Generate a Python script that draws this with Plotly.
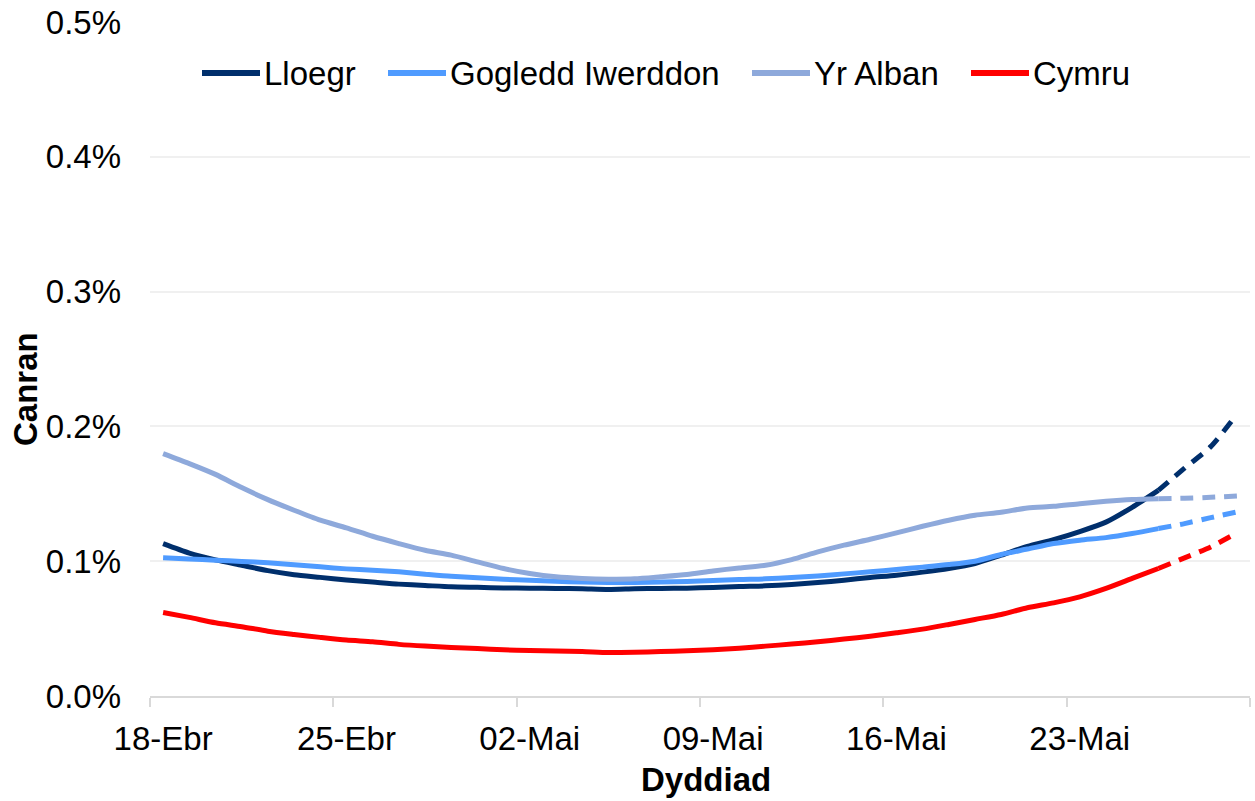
import plotly.graph_objects as go

# ---------------- data (percent) ----------------
tick_labels = ["18-Ebr", "25-Ebr", "02-Mai", "09-Mai", "16-Mai", "23-Mai"]
tick_days = [0, 7, 14, 21, 28, 35]
n_days = 42            # 18 Apr .. 29 May
solid_end = 38         # last day of solid part; dashed afterwards

series_names = ["Lloegr", "Gogledd Iwerddon", "Yr Alban", "Cymru"]
series_colors = ["#002F6C", "#4F9BFF", "#8EA9DB", "#FF0000"]

lloegr = [0.113, 0.106, 0.101, 0.097, 0.093, 0.090, 0.088, 0.086, 0.0845, 0.083,
          0.082, 0.081, 0.0806, 0.0802, 0.0800, 0.0798, 0.0795, 0.0790, 0.0795, 0.0798,
          0.0800, 0.0805, 0.0812, 0.0817, 0.0827, 0.0842, 0.0859, 0.0879, 0.0896, 0.0919,
          0.0946, 0.0983, 0.1045, 0.1110, 0.1160, 0.1220, 0.1290, 0.1400, 0.1526, 0.1690,
          0.1850, 0.2090]
gogledd = [0.1025, 0.1017, 0.1007, 0.0998, 0.0988, 0.0973, 0.0958, 0.0943, 0.0933, 0.0921,
           0.0904, 0.0888, 0.0877, 0.0866, 0.0858, 0.0851, 0.0846, 0.0842, 0.0842, 0.0845,
           0.0850, 0.0857, 0.0864, 0.0869, 0.0879, 0.0891, 0.0906, 0.0921, 0.0938, 0.0956,
           0.0975, 0.1000, 0.1050, 0.1090, 0.1131, 0.1156, 0.1175, 0.1205, 0.1242, 0.1279,
           0.1323, 0.1365]
alban = [0.1798, 0.1724, 0.1644, 0.1546, 0.1457, 0.1378, 0.1304, 0.1247, 0.1185, 0.1131,
         0.1081, 0.1045, 0.0995, 0.0946, 0.0909, 0.0884, 0.0872, 0.0867, 0.0869, 0.0884,
         0.0901, 0.0928, 0.0950, 0.0970, 0.1012, 0.1069, 0.1119, 0.1163, 0.1210, 0.1259,
         0.1304, 0.1341, 0.1363, 0.1395, 0.1407, 0.1427, 0.1444, 0.1457, 0.1464, 0.1467,
         0.1474, 0.1484]
cymru = [0.0620, 0.0583, 0.0543, 0.0514, 0.0481, 0.0457, 0.0435, 0.0415, 0.0402, 0.0383,
         0.0370, 0.0360, 0.0352, 0.0343, 0.0337, 0.0333, 0.0330, 0.0323, 0.0325, 0.0330,
         0.0336, 0.0343, 0.0355, 0.0370, 0.0385, 0.0402, 0.0422, 0.0444, 0.0469, 0.0496,
         0.0531, 0.0568, 0.0605, 0.0655, 0.0691, 0.0736, 0.0798, 0.0872, 0.0946, 0.1025,
         0.1106, 0.1210]

series_values = [lloegr, gogledd, alban, cymru]

FONT = "Liberation Sans, Arial, sans-serif"
FS = 33

fig = go.Figure()
days = list(range(n_days))
for name, color, vals in zip(series_names, series_colors, series_values):
    fig.add_trace(go.Scatter(
        x=days[:solid_end + 1], y=vals[:solid_end + 1], mode="lines", name=name,
        line=dict(color=color, width=5, shape="spline", smoothing=0.7), showlegend=False))
    fig.add_trace(go.Scatter(
        x=days[solid_end:], y=vals[solid_end:], mode="lines", name=name,
        line=dict(color=color, width=5, dash="13px,9px", shape="spline", smoothing=0.7),
        showlegend=False))

# ---------------- custom legend ----------------
plot_l, plot_r, plot_t, plot_b = 150, 1250, 22, 696
W, H = 1255, 801

def px_x(p):
    return (p - plot_l) / (plot_r - plot_l)

def px_y(p):
    return (plot_b - p) / (plot_b - plot_t)

legend_starts = [202, 388, 752, 971]
sample_len = 58
leg_y = 73
shapes = []
annotations = []
for name, color, x0 in zip(series_names, series_colors, legend_starts):
    shapes.append(dict(type="line", xref="paper", yref="paper",
                       x0=px_x(x0), x1=px_x(x0 + sample_len),
                       y0=px_y(leg_y), y1=px_y(leg_y),
                       line=dict(color=color, width=6)))
    annotations.append(dict(text=name, xref="paper", yref="paper",
                            x=px_x(x0 + sample_len + 2), y=px_y(leg_y),
                            xanchor="left", yanchor="middle", showarrow=False,
                            font=dict(family=FONT, size=FS, color="#000000")))

annotations.append(dict(text="<b>Canran</b>", xref="paper", yref="paper",
                        x=px_x(25), y=px_y(389), textangle=-90,
                        xanchor="center", yanchor="middle", showarrow=False,
                        font=dict(family=FONT, size=FS, color="#000000")))
annotations.append(dict(text="<b>Dyddiad</b>", xref="paper", yref="paper",
                        x=px_x(706), y=px_y(779),
                        xanchor="center", yanchor="middle", showarrow=False,
                        font=dict(family=FONT, size=FS, color="#000000")))

fig.update_layout(
    width=W, height=H,
    margin=dict(l=plot_l, r=W - plot_r, t=plot_t, b=H - plot_b),
    paper_bgcolor="white", plot_bgcolor="white",
    font=dict(family=FONT, size=FS, color="#000000"),
    showlegend=False,
    shapes=shapes,
    annotations=annotations,
    xaxis=dict(range=[-0.5, n_days - 0.5], tickmode="array",
               tickvals=tick_days, ticktext=tick_labels, ticks="",
               showgrid=False, zeroline=False, showline=True,
               linecolor="#D9D9D9", linewidth=2,
               ticklabelstandoff=12,
               minor=dict(tickmode="linear", tick0=-0.5, dtick=7, ticks="outside",
                          ticklen=9, tickcolor="#D9D9D9", tickwidth=2, showgrid=False),
               tickfont=dict(family=FONT, size=FS, color="#000000")),
    yaxis=dict(range=[0, 0.5], tickmode="linear", tick0=0, dtick=0.1,
               tickformat=".1f", ticksuffix="%", showgrid=True,
               gridcolor="#F0F0F0", gridwidth=1.5, zeroline=False, showline=False,
               ticks="", ticklabelstandoff=28,
               tickfont=dict(family=FONT, size=FS, color="#000000")),
)

fig.write_html("out.html",
               config={"displayModeBar": False},
               post_script="document.body.style.margin='0';document.body.style.overflow='hidden';")
